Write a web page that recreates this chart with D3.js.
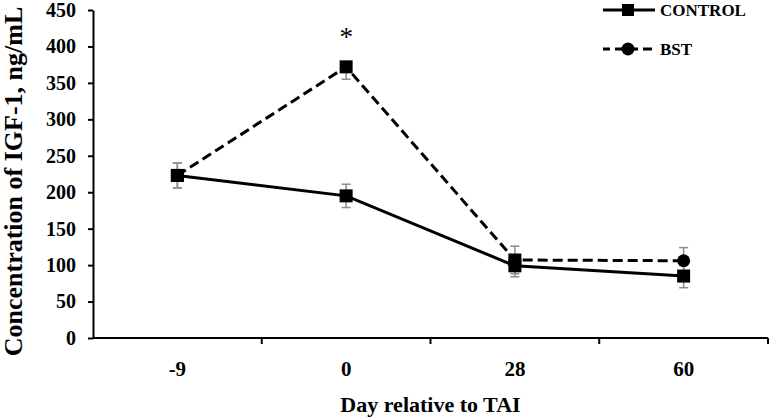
<!DOCTYPE html>
<html>
<head>
<meta charset="utf-8">
<script src="https://cdn.jsdelivr.net/npm/d3@7"></script>
<style>
  html, body { margin: 0; padding: 0; background: #fff; }
  svg { display: block; }
  text { font-family: "Liberation Serif", "Times New Roman", serif; font-weight: bold; fill: #000; }
</style>
</head>
<body>
<svg id="chart" width="772" height="419"></svg>
<script>
// ---- data ----
const days = ["-9", "0", "28", "60"];
const controlValues = [223, 195, 99, 85];
const controlErrUp = [17, 16, 15, 16];
const controlErrDown = [17, 16, 15, 16];
const bstValues = [223, 372, 107, 106];
const bstErrUp = [17, 0, 19, 18];
const bstErrDown = [17, 17, 19, 18];
const yTicks = [0, 50, 100, 150, 200, 250, 300, 350, 400, 450];
const seriesNames = ["CONTROL", "BST"];
const significant = ["0"]; // day with asterisk

// ---- styles (not data) ----
const bstMarkerShapes = ["square", "square", "square", "circle"];

(function () {
const svg = d3.select("#chart");
const mLeft = 93, mRight = 768, mTop = 10, mBottom = 338;

const x = d3.scaleBand().domain(days).range([mLeft, mRight]).padding(0);
const y = d3.scaleLinear().domain([0, 450]).range([mBottom, mTop]);
const cx = d => x(d) + x.bandwidth() / 2;

// y axis
const yAxis = svg.append("g")
  .attr("transform", `translate(${mLeft},0)`)
  .call(d3.axisLeft(y).tickValues(yTicks).tickSize(5).tickSizeOuter(0).tickPadding(12));
yAxis.select(".domain").attr("stroke", "#000").attr("stroke-width", 2);
yAxis.selectAll(".tick line").attr("stroke", "#000").attr("stroke-width", 2);
yAxis.selectAll(".tick text").style("font-size", "20px").style("font-family", "'Liberation Serif', serif").style("font-weight", "bold");

// x axis line
svg.append("line")
  .attr("x1", mLeft).attr("x2", mRight).attr("y1", mBottom).attr("y2", mBottom)
  .attr("stroke", "#000").attr("stroke-width", 2);
// boundary ticks
svg.selectAll(".xtick").data(days).enter().append("line")
  .attr("class", "xtick")
  .attr("x1", d => x(d) + x.bandwidth()).attr("x2", d => x(d) + x.bandwidth())
  .attr("y1", mBottom).attr("y2", mBottom + 6)
  .attr("stroke", "#000").attr("stroke-width", 2);
// x labels
svg.selectAll(".xlab").data(days).enter().append("text")
  .attr("class", "xlab")
  .attr("x", d => cx(d)).attr("y", 376)
  .attr("text-anchor", "middle")
  .style("font-size", "21px")
  .text(d => d);

// axis titles
svg.append("text")
  .attr("x", (mLeft + mRight) / 2).attr("y", 412)
  .attr("text-anchor", "middle")
  .style("font-size", "22px")
  .text("Day relative to TAI");
svg.append("text")
  .attr("transform", `translate(22,${(6 + 357) / 2}) rotate(-90)`)
  .attr("text-anchor", "middle")
  .style("font-size", "26px")
  .text("Concentration of IGF-1, ng/mL");

// series
const control = days.map((d, i) => ({ d, v: controlValues[i], up: controlErrUp[i], dn: controlErrDown[i] }));
const bst = days.map((d, i) => ({ d, v: bstValues[i], up: bstErrUp[i], dn: bstErrDown[i], shape: bstMarkerShapes[i] }));

// error bars
function errorBars(data, cls) {
  const g = svg.append("g").attr("class", cls).attr("stroke", "#8c8c8c").attr("stroke-width", 1.5);
  data.forEach(p => {
    g.append("line").attr("x1", cx(p.d)).attr("x2", cx(p.d)).attr("y1", y(p.v - p.dn)).attr("y2", y(p.v + p.up));
    if (p.dn > 0) g.append("line").attr("x1", cx(p.d) - 4.5).attr("x2", cx(p.d) + 4.5).attr("y1", y(p.v - p.dn)).attr("y2", y(p.v - p.dn));
    if (p.up > 0) g.append("line").attr("x1", cx(p.d) - 4.5).attr("x2", cx(p.d) + 4.5).attr("y1", y(p.v + p.up)).attr("y2", y(p.v + p.up));
  });
}
errorBars(control, "err-control");
errorBars(bst, "err-bst");

const line = d3.line().x(p => cx(p.d)).y(p => y(p.v));
svg.append("path").datum(bst).attr("d", line)
  .attr("fill", "none").attr("stroke", "#000").attr("stroke-width", 3).attr("stroke-dasharray", "10,5");
svg.append("path").datum(control).attr("d", line)
  .attr("fill", "none").attr("stroke", "#000").attr("stroke-width", 3);

const sq = 13;
// control markers
svg.selectAll(".mc").data(control).enter().append("rect")
  .attr("x", p => cx(p.d) - sq / 2).attr("y", p => y(p.v) - sq / 2)
  .attr("width", sq).attr("height", sq).attr("fill", "#000");
// bst markers
bst.forEach(p => {
  if (p.shape === "circle") {
    svg.append("circle").attr("cx", cx(p.d)).attr("cy", y(p.v)).attr("r", 6.5).attr("fill", "#000");
  } else {
    svg.append("rect").attr("x", cx(p.d) - sq / 2).attr("y", y(p.v) - sq / 2)
      .attr("width", sq).attr("height", sq).attr("fill", "#000");
  }
});

// significance asterisk
significant.forEach(d => {
  const i = days.indexOf(d);
  svg.append("text")
    .attr("x", cx(d)).attr("y", y(bstValues[i]) - 21)
    .attr("text-anchor", "middle")
    .style("font-size", "27px").style("font-weight", "normal")
    .text("*");
});

// legend
const lg = svg.append("g");
lg.append("line").attr("x1", 603).attr("x2", 655).attr("y1", 10).attr("y2", 10)
  .attr("stroke", "#000").attr("stroke-width", 3);
lg.append("rect").attr("x", 628 - 6).attr("y", 10 - 6).attr("width", 12).attr("height", 12).attr("fill", "#000");
lg.append("text").attr("x", 660).attr("y", 15.5).style("font-size", "17px").text(seriesNames[0]);
lg.append("line").attr("x1", 603).attr("x2", 653).attr("y1", 49).attr("y2", 49)
  .attr("stroke", "#000").attr("stroke-width", 3).attr("stroke-dasharray", "9,5").attr("stroke-dashoffset", 2);
lg.append("circle").attr("cx", 628).attr("cy", 49).attr("r", 6.5).attr("fill", "#000");
lg.append("text").attr("x", 660).attr("y", 55).style("font-size", "17px").text(seriesNames[1]);
})();
</script>
</body>
</html>
